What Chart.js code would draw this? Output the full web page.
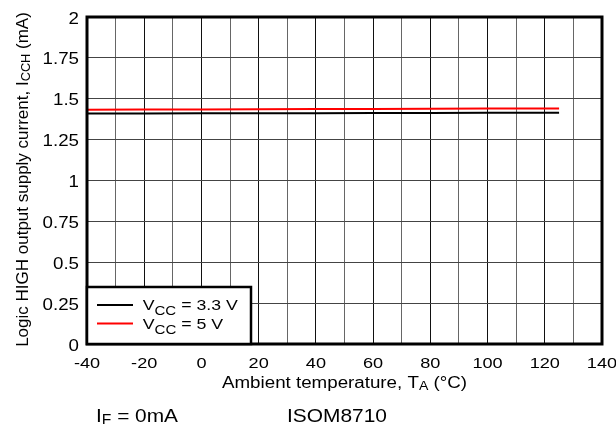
<!DOCTYPE html>
<html>
<head>
<meta charset="utf-8">
<script src="https://cdn.jsdelivr.net/npm/chart.js@4.4.1/dist/chart.umd.min.js"></script>
<style>
  html, body { margin: 0; padding: 0; background: #fff; }
  #wrap { width: 616px; height: 427px; }
</style>
</head>
<body>
<div id="wrap"><canvas id="chart" width="616" height="427"></canvas></div>
<script>
// ====== DATA ======
const temps = [-40, -20, 0, 20, 40, 60, 80, 100, 125];
const icc33 = [1.410, 1.410, 1.411, 1.411, 1.412, 1.413, 1.413, 1.414, 1.415];
const icc5 = [1.433, 1.434, 1.435, 1.436, 1.437, 1.438, 1.439, 1.440, 1.441];
const xTicks = [-40, -20, 0, 20, 40, 60, 80, 100, 120, 140];
const yTickVals = [0, 0.25, 0.5, 0.75, 1, 1.25, 1.5, 1.75, 2];
const yTicks = ["0", "0.25", "0.5", "0.75", "1", "1.25", "1.5", "1.75", "2"];
const seriesNames = ["3.3 V", "5 V"];
const seriesColors = ["#000000", "#ff0000"];

const FONT = "'Liberation Sans', Arial, sans-serif";
const SX = 1.17; // el original esta algo estirado en horizontal

// texto con subindices: partes [{t, sub}]
function richWidth(ctx, parts, size, subK) {
  subK = subK || 0.75;
  let w = 0;
  parts.forEach(p => {
    ctx.font = (p.sub ? size * subK : size) + "px " + FONT;
    w += ctx.measureText(p.t).width;
  });
  return w;
}
// dibuja con escala horizontal sx; align: left | center | right
function drawRich(ctx, parts, x, y, size, align, sx, subK, subDy) {
  subK = subK || 0.75;
  subDy = subDy === undefined ? size * 0.12 : subDy;
  const w = richWidth(ctx, parts, size, subK) * sx;
  let x0 = x;
  if (align === "center") x0 = x - w / 2;
  if (align === "right") x0 = x - w;
  ctx.save();
  ctx.translate(x0, y);
  ctx.scale(sx, 1);
  ctx.textAlign = "left";
  ctx.textBaseline = "alphabetic";
  let cx = 0;
  parts.forEach(p => {
    ctx.font = (p.sub ? size * subK : size) + "px " + FONT;
    ctx.fillText(p.t, cx, p.sub ? subDy : 0);
    cx += ctx.measureText(p.t).width;
  });
  ctx.restore();
}
function fitSx(ctx, parts, size, target, subK) {
  return target / richWidth(ctx, parts, size, subK);
}

const decorPlugin = {
  id: "decor",
  afterDraw(chart) {
    const ctx = chart.ctx;
    const a = chart.chartArea;
    const xs = chart.scales.x, ys = chart.scales.y;
    ctx.save();
    ctx.fillStyle = "#000";

    // borde del area
    ctx.strokeStyle = "#000";
    ctx.lineWidth = 3;
    ctx.strokeRect(a.left, a.top, a.right - a.left, a.bottom - a.top);

    // etiquetas de ejes
    xTicks.forEach(v => {
      drawRich(ctx, [{t: String(v)}], xs.getPixelForValue(v), 368, 15.5, "center", SX);
    });
    yTickVals.forEach((v, i) => {
      drawRich(ctx, [{t: yTicks[i]}], 79, ys.getPixelForValue(v) + 6.5, 16, "right", SX);
    });

    // leyenda
    const lx = a.left, ly = 287, lw = 164, lh = a.bottom - ly;
    ctx.fillStyle = "#fff";
    ctx.fillRect(lx, ly, lw, lh);
    ctx.lineWidth = 2.5;
    ctx.strokeRect(lx, ly, lw, lh);
    ctx.fillStyle = "#000";
    const legY = [305, 323.5];
    const legBase = [310.3, 329.3];
    const legW = [95, 80.5];
    seriesNames.forEach((name, i) => {
      ctx.strokeStyle = seriesColors[i];
      ctx.lineWidth = 2;
      ctx.beginPath();
      ctx.moveTo(97, legY[i]);
      ctx.lineTo(133, legY[i]);
      ctx.stroke();
      const parts = [{t: "V"}, {t: "CC", sub: true}, {t: " = " + name}];
      drawRich(ctx, parts, 142.7, legBase[i], 14, "left",
        fitSx(ctx, parts, 14, legW[i], 0.85), 0.85, 4.5);
    });

    // titulo eje x
    const xParts = [{t: "Ambient temperature, T"}, {t: "A", sub: true}, {t: " (°C)"}];
    drawRich(ctx, xParts, (a.left + a.right) / 2, 388, 16, "center", fitSx(ctx, xParts, 16, 245));

    // titulo eje y
    const yParts = [{t: "Logic HIGH output supply current, I"}, {t: "CCH", sub: true}, {t: " (mA)"}];
    const ySize = 16 * 335 / richWidth(ctx, yParts, 16);
    ctx.save();
    ctx.translate(27.5, (a.top + a.bottom) / 2 - 1);
    ctx.rotate(-Math.PI / 2);
    drawRich(ctx, yParts, 0, 0, ySize, "center", 1);
    ctx.restore();

    // notas inferiores
    const f1 = [{t: "I"}, {t: "F", sub: true}, {t: " = 0mA"}];
    drawRich(ctx, f1, 96, 422, 19, "left", fitSx(ctx, f1, 19, 82));
    const f2 = [{t: "ISOM8710"}];
    drawRich(ctx, f2, 287, 422, 19, "left", fitSx(ctx, f2, 19, 100));

    ctx.restore();
  }
};

const ctx = document.getElementById("chart").getContext("2d");

new Chart(ctx, {
  type: "line",
  data: {
    datasets: [
      {
        label: "VCC = 3.3 V",
        data: temps.map((t, i) => ({x: t, y: icc33[i]})),
        borderColor: seriesColors[0],
        borderWidth: 2,
        pointRadius: 0,
        tension: 0
      },
      {
        label: "VCC = 5 V",
        data: temps.map((t, i) => ({x: t, y: icc5[i]})),
        borderColor: seriesColors[1],
        borderWidth: 2,
        pointRadius: 0,
        tension: 0
      }
    ]
  },
  options: {
    responsive: false,
    animation: false,
    layout: { padding: { left: 0, right: 14, top: 17, bottom: 0 } },
    plugins: {
      legend: { display: false },
      tooltip: { enabled: false }
    },
    scales: {
      x: {
        type: "linear",
        min: -40,
        max: 140,
        afterFit: s => { s.height = 83; },
        ticks: { stepSize: 10, autoSkip: false, display: false },
        grid: {
          color: c => (c.tick && c.tick.value % 20 === 0 ? "#111" : "#666"),
          lineWidth: 1,
          drawTicks: false
        },
        border: { display: false }
      },
      y: {
        min: 0,
        max: 2,
        afterFit: s => { s.width = 87; },
        ticks: { stepSize: 0.25, display: false },
        grid: { color: "#444", lineWidth: 1, drawTicks: false },
        border: { display: false }
      }
    }
  },
  plugins: [decorPlugin]
});
</script>
</body>
</html>
